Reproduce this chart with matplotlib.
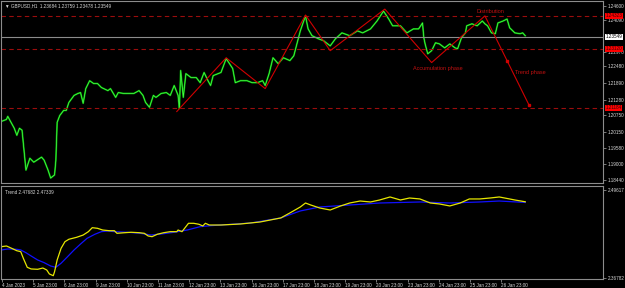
import matplotlib.pyplot as plt
import matplotlib.transforms as mtransforms

plt.rcParams['font.family'] = ['Liberation Sans', 'DejaVu Sans']

# GBPUSD H1 closes (bar index, price)
price_bar = [0, 4, 5, 8, 10, 12, 14, 16, 18, 19, 22, 25, 31, 33, 36, 38, 41, 42, 43, 45,
             48, 50, 52, 56, 59, 61, 63, 65, 68, 71, 74, 77, 82, 84, 88, 90, 94, 98, 102, 106,
             109, 111, 114, 117, 119, 123, 127, 130, 133, 136, 137, 138, 140, 142, 146, 150, 153, 156, 159, 161,
             163, 169, 173, 175, 178, 180, 184, 189, 193, 197, 201, 203, 206, 209, 213, 217, 222, 225, 228, 230,
             234, 236, 239, 244, 248, 253, 257, 262, 268, 274, 278, 284, 289, 294, 298, 301, 307, 312, 317, 321,
             324, 325, 326, 328, 331, 334, 337, 341, 345, 349, 351, 354, 357, 358, 362, 366, 370, 372, 374, 377,
             380, 382, 386, 389, 391, 395, 399, 401, 403]
price_close = [1.2052, 1.2059, 1.2070, 1.2045, 1.2028, 1.2003, 1.2028, 1.2021, 1.1926, 1.1880,
               1.1922, 1.1908, 1.1926, 1.1915, 1.1880, 1.1852, 1.1863, 1.1915, 1.2049, 1.2073,
               1.2091, 1.2091, 1.2119, 1.2144, 1.2151, 1.2154, 1.2116, 1.2168, 1.2196, 1.2186,
               1.2186, 1.2172, 1.2161, 1.2168, 1.2137, 1.2154, 1.2151, 1.2151, 1.2151, 1.2161,
               1.2144, 1.2119, 1.2102, 1.2144, 1.2137, 1.2151, 1.2154, 1.2144, 1.2179, 1.2144,
               1.2098, 1.2232, 1.2137, 1.2221, 1.2207, 1.2207, 1.2189, 1.2225, 1.2196, 1.2179,
               1.2214, 1.2225, 1.2274, 1.2260, 1.2239, 1.2189, 1.2196, 1.2196, 1.2189, 1.2189,
               1.2196, 1.2179, 1.2221, 1.2277, 1.2256, 1.2277, 1.2267, 1.2284, 1.2337, 1.2372,
               1.2425, 1.2379, 1.2355, 1.2344, 1.2337, 1.2319, 1.2344, 1.2365, 1.2355, 1.2372,
               1.2365, 1.2379, 1.2407, 1.2442, 1.2414, 1.2390, 1.2390, 1.2365, 1.2379, 1.2379,
               1.2400, 1.2348, 1.2326, 1.2291, 1.2302, 1.2330, 1.2326, 1.2312, 1.2326, 1.2312,
               1.2309, 1.2348, 1.2365, 1.2390, 1.2397, 1.2390, 1.2407, 1.2397, 1.2390, 1.2365,
               1.2362, 1.2400, 1.2407, 1.2414, 1.2383, 1.2365, 1.2362, 1.2365, 1.2355]

# hand drawn zigzag (bar, price)
zig_bar = [135, 173, 203, 234, 253, 295, 331, 372, 389, 406]
zig_price = [1.2087, 1.2277, 1.2168, 1.2428, 1.2302, 1.2449, 1.2260, 1.2425, 1.2267, 1.2109]

# horizontal levels (where the lines sit) and the labels printed on the scale
levels = [1.2426, 1.2308, 1.2101]
level_labels = ["1.24323", "1.23120", "1.21184"]
last_price = 1.2352
last_label = "1.23549"

price_ticks = [1.24600, 1.24090, 1.22970, 1.22480, 1.21890, 1.21280, 1.20750,
               1.20150, 1.19580, 1.19000, 1.18440]

# "Trend" indicator
ind_bar = [0, 4, 8, 12, 15, 17, 20, 23, 28, 32, 35, 37, 40, 41, 43, 46, 49, 52, 58, 63,
           67, 70, 74, 78, 83, 87, 89, 95, 100, 106, 110, 113, 116, 120, 125, 130, 135, 136, 139, 142,
           144, 148, 152, 155, 157, 160, 169, 184, 199, 215, 222, 230, 234, 238, 245, 253, 261, 268,
           276, 284, 291, 299, 307, 314, 322, 330, 337, 345, 353, 360, 368, 376, 383, 391, 395, 403]
yellow = [2.4135, 2.4145, 2.4111, 2.4076, 2.4062, 2.3965, 2.3834, 2.3810, 2.3805, 2.3824,
          2.3795, 2.3737, 2.3712, 2.3770, 2.3941, 2.4111, 2.4208, 2.4243, 2.4272, 2.4305,
          2.4354, 2.4412, 2.4403, 2.4378, 2.4368, 2.4368, 2.4330, 2.4339, 2.4345, 2.4339,
          2.4330, 2.4291, 2.4281, 2.4316, 2.4339, 2.4354, 2.4354, 2.4378, 2.4354, 2.4427,
          2.4476, 2.4476, 2.4462, 2.4437, 2.4476, 2.4451, 2.4451, 2.4466, 2.4495, 2.4554,
          2.4627, 2.4714, 2.4772, 2.4743, 2.4699, 2.4670, 2.4729, 2.4772, 2.4801, 2.4787,
          2.4816, 2.4860, 2.4816, 2.4845, 2.4831, 2.4772, 2.4758, 2.4729, 2.4772, 2.4831,
          2.4831, 2.4845, 2.4860, 2.4831, 2.4816, 2.4790]
blue_bar = [0, 5, 12, 15, 19, 23, 28, 33, 38, 42, 46, 51, 56, 61, 66, 72, 77, 82, 87, 97,
            107, 115, 123, 133, 143, 153, 161, 192, 215, 230, 245, 268, 291, 322, 345, 368, 383, 403]
blue = [2.4087, 2.4101, 2.4097, 2.4087, 2.4047, 2.3999, 2.3941, 2.3902, 2.3853, 2.3834,
        2.3893, 2.3989, 2.4087, 2.4174, 2.4257, 2.4316, 2.4354, 2.4364, 2.4354, 2.4345,
        2.4330, 2.4305, 2.4320, 2.4345, 2.4378, 2.4427, 2.4441, 2.4481, 2.4554, 2.4656,
        2.4714, 2.4743, 2.4772, 2.4787, 2.4772, 2.4787, 2.4801, 2.4780]
ind_ticks = [2.49617, 2.36782]

time_labels = ["4 Jan 2023", "5 Jan 23:00", "6 Jan 23:00", "9 Jan 23:00", "10 Jan 23:00",
               "11 Jan 23:00", "12 Jan 23:00", "13 Jan 23:00", "16 Jan 23:00", "17 Jan 23:00",
               "18 Jan 23:00", "19 Jan 23:00", "20 Jan 23:00", "23 Jan 23:00", "24 Jan 23:00",
               "25 Jan 23:00", "26 Jan 23:00"]

GRID = "#8c8c8c"
TXT = "#d8d8d8"
LVL = "#9b0d0d"
RED = "#d00000"
FS = 3.3

fig = plt.figure(figsize=(6.25, 2.88), dpi=100, facecolor="black")
ax = fig.add_axes([0.002, 1 - 183 / 288, 602 / 625, 182 / 288])
axi = fig.add_axes([0.002, 1 - 279 / 288, 602 / 625, 93 / 288])

xmax = 463
for a in (ax, axi):
    a.set_facecolor("black")
    a.set_xlim(0, xmax)
    for s in a.spines.values():
        s.set_color(GRID)
        s.set_linewidth(0.8)
    a.yaxis.tick_right()
    a.tick_params(axis="y", colors=GRID, labelcolor=TXT, labelsize=FS, length=2, width=0.6, pad=1)
    a.tick_params(axis="x", colors=GRID, labelcolor=TXT, labelsize=FS, length=2, width=0.6, pad=1)

# main price panel
ax.set_ylim(1.18345, 1.24776)
ax.set_yticks(price_ticks)
ax.set_yticklabels([f"{v:.5f}" for v in price_ticks])
ax.set_xticks([])

ax.plot(price_bar, price_close, color="#009a00", lw=1.3)
ax.plot(price_bar, price_close, color="#4cff4c", lw=0.5)

for lv in levels:
    ax.axhline(lv, color=LVL, lw=0.8, dashes=(4, 3))
ax.axhline(last_price, color=GRID, lw=0.8)

ax.plot(zig_bar, zig_price, color=RED, lw=0.8)
ax.plot(zig_bar[-2:], zig_price[-2:], "s", color=RED, ms=1.5)

ax.text(376, 1.2442, "Distribution", color="#c01010", fontsize=4, ha="center", va="center")
ax.text(336, 1.2239, "Accumulation phase", color="#c01010", fontsize=4, ha="center", va="center")
ax.text(395, 1.2226, "Trend phase", color="#c01010", fontsize=4, ha="left", va="center")

ax.text(0.006, 0.975, "\u25bc GBPUSD,H1  1.23684 1.23759 1.23478 1.23549", transform=ax.transAxes,
        color=TXT, fontsize=FS, ha="left", va="center")

trans = mtransforms.blended_transform_factory(ax.transAxes, ax.transData)
for lv, lab in zip(levels, level_labels):
    ax.text(1.004, lv, lab, transform=trans, fontsize=FS, color="#3a0000", ha="left", va="center",
            bbox=dict(boxstyle="square,pad=0.1", fc="#ff0000", ec="none"), clip_on=False)
ax.text(1.004, last_price, last_label, transform=trans, fontsize=FS, color="black",
        ha="left", va="center", bbox=dict(boxstyle="square,pad=0.1", fc="white", ec="none"), clip_on=False)

# indicator panel
axi.set_ylim(2.36636, 2.50200)
axi.set_yticks(ind_ticks)
axi.set_yticklabels([f"{v:.5f}" for v in ind_ticks])
axi.plot(blue_bar, blue, color="#1010ff", lw=0.9)
axi.plot(ind_bar, yellow, color="#e6e600", lw=0.9)
axi.text(0.006, 0.93, "Trend 2.47682 2.47339", transform=axi.transAxes, color=TXT, fontsize=FS,
         ha="left", va="center")

axi.set_xticks([24 * k + 0.5 for k in range(len(time_labels))])
axi.set_xticklabels(time_labels, ha="left")

fig.savefig("out.png", dpi=100, facecolor="black")
